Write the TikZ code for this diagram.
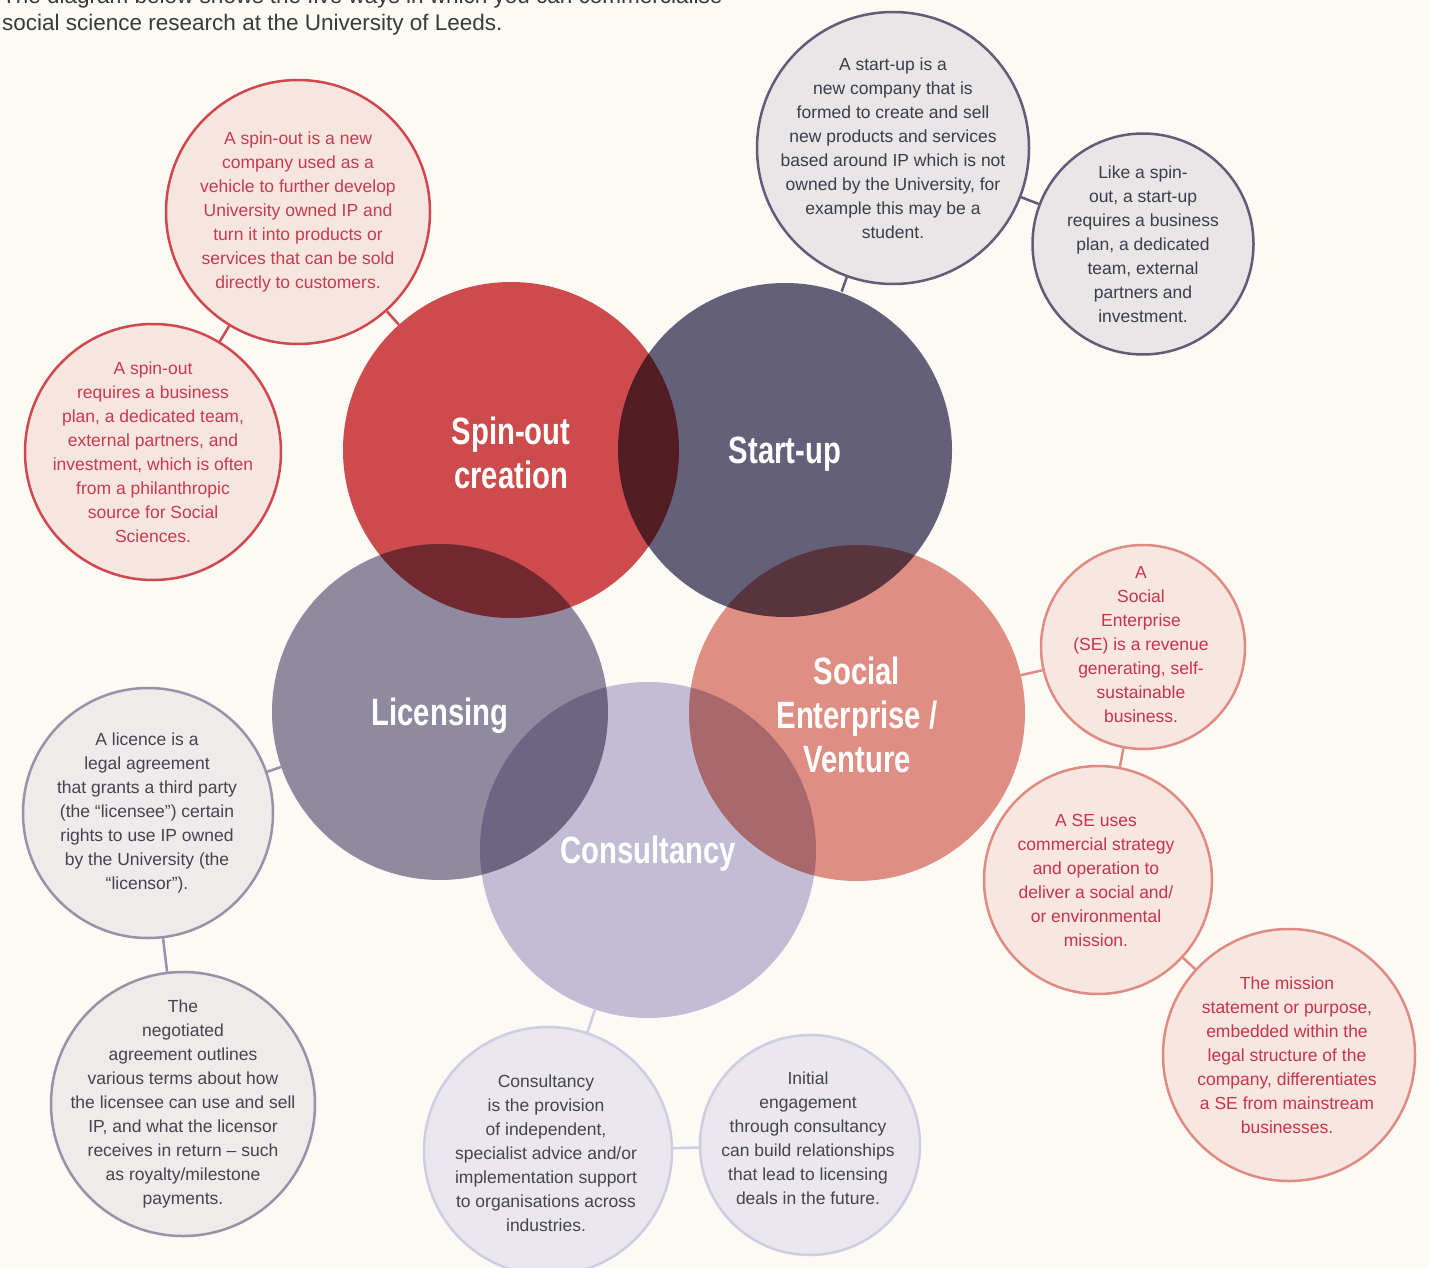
\documentclass[tikz,border=0pt]{standalone}
\usepackage{fontspec}
\setmainfont{Liberation Sans}
\newfontfamily\labfont{Liberation Sans}[FakeStretch=0.77]
\definecolor{bg}{HTML}{FBFAF5}
\definecolor{hdr}{HTML}{3A3A3A}
\definecolor{soC}{HTML}{CD4B4C}
\definecolor{suC}{HTML}{656079}
\definecolor{liC}{HTML}{8F8A9F}
\definecolor{seC}{HTML}{DF8E83}
\definecolor{coC}{HTML}{C2BCD4}
\definecolor{soS}{HTML}{D0484E}
\definecolor{soF}{HTML}{F7E5E0}
\definecolor{soT}{HTML}{C93A4E}
\definecolor{suS}{HTML}{625C77}
\definecolor{suF}{HTML}{E8E6E7}
\definecolor{suT}{HTML}{3E3B4A}
\definecolor{seS}{HTML}{E08B81}
\definecolor{seF}{HTML}{F8E6E0}
\definecolor{seT}{HTML}{C8344A}
\definecolor{liS}{HTML}{9892A8}
\definecolor{liF}{HTML}{EEEBEB}
\definecolor{liT}{HTML}{46424F}
\definecolor{coS}{HTML}{D0CCE2}
\definecolor{coF}{HTML}{EAE8EE}
\definecolor{coT}{HTML}{46424F}
\tikzset{
  sat/.style={circle, inner sep=0pt, line width=2.5pt, minimum size=#1},
  txt/.style={align=center, inner sep=0pt, font=\fontsize{17.5}{24}\selectfont},
  mainc/.style={circle, inner sep=0pt, minimum size=336pt},
  mainlab/.style={align=center, inner sep=0pt, text=white,
    font=\labfont\bfseries\fontsize{38}{44}\selectfont},
  conn/.style={line width=2.5pt},
  hdrtxt/.style={anchor=base west, inner sep=0pt, text=hdr, font=\fontsize{22.5}{27}\selectfont}
}
\begin{document}
\begin{tikzpicture}[x=1pt,y=-1pt]
\useasboundingbox (0,0) rectangle (1430,1268);
\fill[bg] (0,0) rectangle (1430,1268);

% header
\node[hdrtxt] (h1) at (2,4) {The diagram below shows the five ways in which you can commercialise};
\node[hdrtxt] (h2) at (2,31) {social science research at the University of Leeds.};

% centres of the main circles
\coordinate (soc) at (511,450);
\coordinate (suc) at (785,450);
\coordinate (lic) at (440,712);
\coordinate (sec) at (857,713);
\coordinate (coc) at (648,850);

\begin{scope}[blend group=multiply]
  \fill[soC] (soc) circle[radius=168pt];
  \fill[suC] (suc) circle[radius=167pt];
  \fill[liC] (lic) circle[radius=168pt];
  \fill[seC] (sec) circle[radius=168pt];
  \fill[coC] (coc) circle[radius=168pt];
\end{scope}

\node[mainc] (so) at (soc) {};
\node[mainc] (su) at (suc) {};
\node[mainc] (li) at (lic) {};
\node[mainc] (se) at (sec) {};
\node[mainc] (co) at (coc) {};
\node[mainlab] (sol) at ([yshift=-3pt]soc) {Spin-out\\creation};
\node[mainlab] (sul) at ([yshift=-4pt]suc) {Start-up};
\node[mainlab] (lil) at ([yshift=-4pt]lic) {Licensing};
\node[mainlab] (sel) at ([yshift=-2pt]sec) {Social\\Enterprise /\\Venture};
\node[mainlab] (col) at ([yshift=-4pt]coc) {Consultancy};

% satellites
\node[sat=264pt, draw=soS, fill=soF] (so1) at (298,212) {};
\node[txt, text=soT] (so1t) at (so1.center) {A spin-out is a new\\company used as a\\vehicle to further develop\\University owned IP and\\turn it into products or\\services that can be sold\\directly to customers.};
\node[sat=256pt, draw=soS, fill=soF] (so2) at (153,452) {};
\node[txt, text=soT] (so2t) at (so2.center) {A spin-out\\requires a business\\plan, a dedicated team,\\external partners, and\\investment, which is often\\from a philanthropic\\source for Social\\Sciences.};

\node[sat=272pt, draw=suS, fill=suF] (su1) at (893,148) {};
\node[txt, text=suT] (su1t) at (su1.center) {A start-up is a\\new company that is\\formed to create and sell\\new products and services\\based around IP which is not\\owned by the University, for\\example this may be a\\student.};
\node[sat=221pt, draw=suS, fill=suF] (su2) at (1143,244) {};
\node[txt, text=suT] (su2t) at (su2.center) {Like a spin-\\out, a start-up\\requires a business\\plan, a dedicated\\team, external\\partners and\\investment.};

\node[sat=204pt, draw=seS, fill=seF] (se1) at (1143,647) {};
\node[txt, text=seT] (se1t) at (1141,645) {A\\Social\\Enterprise\\(SE) is a revenue\\generating, self-\\sustainable\\business.};
\node[sat=228pt, draw=seS, fill=seF] (se2) at (1098,880) {};
\node[txt, text=seT] (se2t) at (1096,880) {A SE uses\\commercial strategy\\and operation to\\deliver a social and/\\or environmental\\mission.};
\node[sat=252pt, draw=seS, fill=seF] (se3) at (1289,1055) {};
\node[txt, text=seT] (se3t) at (1287,1055) {The mission\\statement or purpose,\\embedded within the\\legal structure of the\\company, differentiates\\a SE from mainstream\\businesses.};

\node[sat=250pt, draw=liS, fill=liF] (li1) at (148,813) {};
\node[txt, text=liT] (li1t) at (147,813) {A licence is a\\legal agreement\\that grants a third party\\(the “licensee”) certain\\rights to use IP owned\\by the University (the\\“licensor”).};
\node[sat=264pt, draw=liS, fill=liF] (li2) at (183,1104) {};
\node[txt, text=liT] (li2t) at (183,1104) {The\\negotiated\\agreement outlines\\various terms about how\\the licensee can use and sell\\IP, and what the licensor\\receives in return – such\\as royalty/milestone\\payments.};

\node[sat=248pt, draw=coS, fill=coF] (co1) at (548,1151) {};
\node[txt, text=coT] (co1t) at (546,1153) {Consultancy\\is the provision\\of independent,\\specialist advice and/or\\implementation support\\to organisations across\\industries.};
\node[sat=220pt, draw=coS, fill=coF] (co2) at (810,1145) {};
\node[txt, text=coT] (co2t) at (808,1138) {Initial\\engagement\\through consultancy\\can build relationships\\that lead to licensing\\deals in the future.};

% connectors
\draw[conn, soS] (so1) -- (so);
\draw[conn, soS] (so1) -- (so2);
\draw[conn, suS] (su1) -- (su);
\draw[conn, suS] (su1) -- (su2);
\draw[conn, seS] (se) -- (se1);
\draw[conn, seS] (se1) -- (se2);
\draw[conn, seS] (se2) -- (se3);
\draw[conn, liS] (li) -- (li1);
\draw[conn, liS] (li1) -- (li2);
\draw[conn, coS] (co) -- (co1);
\draw[conn, coS] (co1) -- (co2);
\end{tikzpicture}
\end{document}
